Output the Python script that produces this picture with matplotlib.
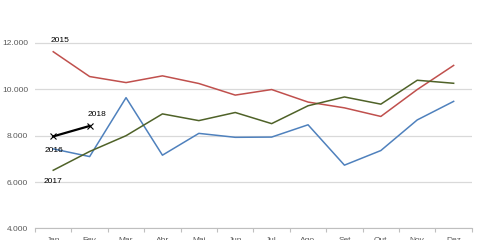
import matplotlib
matplotlib.use("Agg")
import matplotlib.pyplot as plt
from matplotlib.ticker import FuncFormatter

plt.rcParams['font.family'] = ['Liberation Sans', 'DejaVu Sans']

months = ["Jan", "Fev", "Mar", "Abr", "Mai", "Jun", "Jul", "Ago", "Set", "Out", "Nov", "Dez"]
y2015 = [11620, 10550, 10290, 10580, 10250, 9750, 9990, 9450, 9200, 8830, 9990, 11030]
y2016 = [7430, 7100, 9640, 7160, 8100, 7930, 7940, 8470, 6730, 7360, 8680, 9480]
y2017 = [6510, 7320, 8000, 8940, 8650, 9000, 8520, 9290, 9670, 9360, 10390, 10260]
y2018 = [7970, 8420]

fig = plt.figure(figsize=(4.8, 2.4), dpi=100)
ax = fig.add_axes([0.073, 0.048, 0.91, 0.952])

x = list(range(len(months)))
ax.plot(x, y2015, color="#C0504D", lw=1.1)
ax.plot(x, y2016, color="#4F81BD", lw=1.1)
ax.plot(x, y2017, color="#4F6228", lw=1.1)
ax.plot(x[:2], y2018, color="black", lw=1.6, marker="x", ms=4, mew=0.8)

# series names written next to the lines
ax.text(-0.06, 12040, "2015", fontsize=6, ha="left", va="baseline")
ax.text(-0.245, 7285, "2016", fontsize=6, ha="left", va="baseline")
ax.text(-0.26, 5950, "2017", fontsize=6, ha="left", va="baseline")
ax.text(0.956, 8850, "2018", fontsize=6, ha="left", va="baseline")

ax.set_xlim(-0.5, 11.5)
ax.set_ylim(4000, 13850)
ax.set_yticks([4000, 6000, 8000, 10000, 12000])
ax.yaxis.set_major_formatter(FuncFormatter(lambda v, p: f"{int(v):,}".replace(",", ".")))
ax.grid(axis="y", color="#D9D9D9", lw=0.9)
ax.set_axisbelow(True)

ax.set_xticks([i - 0.5 for i in range(13)])
ax.set_xticklabels([])
ax.set_xticks(x, minor=True)
ax.set_xticklabels(months, minor=True)
ax.tick_params(axis="x", which="major", length=3, color="#BFBFBF", width=0.8)
ax.tick_params(axis="x", which="minor", length=0, pad=6, labelsize=6, labelcolor="#595959")
ax.tick_params(axis="y", length=0, labelsize=6, labelcolor="#595959", pad=5)

for s in ["top", "right", "left"]:
    ax.spines[s].set_visible(False)
ax.spines["bottom"].set_color("#BFBFBF")
ax.spines["bottom"].set_linewidth(0.8)

fig.savefig("out.png", dpi=100)
